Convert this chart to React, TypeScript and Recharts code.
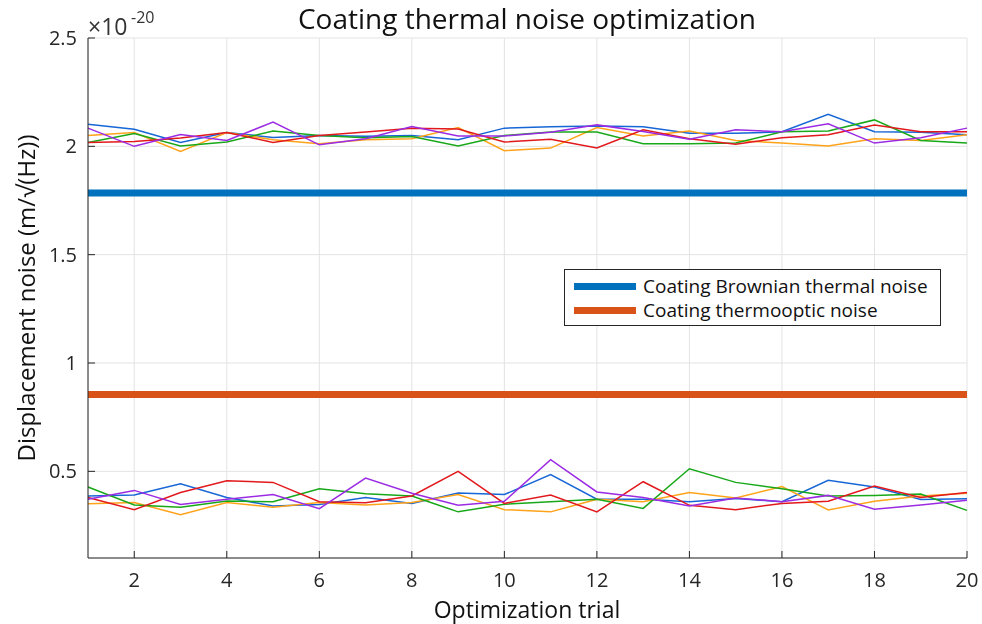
import {
  LineChart,
  Line,
  XAxis,
  YAxis,
  CartesianGrid,
  ReferenceLine,
  Legend,
  Customized,
} from 'recharts'

const trials = [1, 2, 3, 4, 5, 6, 7, 8, 9, 10, 11, 12, 13, 14, 15, 16, 17, 18, 19, 20]

// Brownian noise, each optimization run (x 1e-20)
const brownBlue = [2.102, 2.079, 2.018, 2.064, 2.041, 2.05, 2.046, 2.05, 2.03, 2.084, 2.09, 2.094, 2.09, 2.06, 2.06, 2.067, 2.148, 2.067, 2.065, 2.053]
const brownOrange = [2.05, 2.064, 1.976, 2.064, 2.03, 2.012, 2.03, 2.035, 2.087, 1.98, 1.992, 2.087, 2.048, 2.071, 2.027, 2.015, 2.002, 2.035, 2.027, 2.053]
const brownGreen = [2.018, 2.059, 2.002, 2.02, 2.071, 2.05, 2.04, 2.045, 2.002, 2.05, 2.066, 2.066, 2.012, 2.012, 2.015, 2.067, 2.071, 2.122, 2.027, 2.015]
const brownRed = [2.018, 2.022, 2.038, 2.064, 2.018, 2.05, 2.066, 2.084, 2.08, 2.02, 2.033, 1.992, 2.076, 2.035, 2.01, 2.04, 2.053, 2.098, 2.067, 2.067]
const brownPurple = [2.084, 2.0, 2.055, 2.027, 2.112, 2.007, 2.035, 2.091, 2.048, 2.048, 2.065, 2.099, 2.068, 2.033, 2.076, 2.067, 2.104, 2.015, 2.04, 2.084]

// thermo-optic noise, each optimization run
const toBlue = [0.386, 0.391, 0.443, 0.379, 0.34, 0.347, 0.379, 0.352, 0.4, 0.393, 0.485, 0.371, 0.371, 0.36, 0.375, 0.36, 0.459, 0.428, 0.37, 0.373]
const toOrange = [0.35, 0.356, 0.3, 0.356, 0.334, 0.356, 0.345, 0.356, 0.393, 0.323, 0.313, 0.371, 0.36, 0.402, 0.377, 0.43, 0.322, 0.362, 0.386, 0.399]
const toGreen = [0.428, 0.345, 0.334, 0.363, 0.36, 0.42, 0.397, 0.386, 0.313, 0.348, 0.36, 0.371, 0.329, 0.512, 0.449, 0.42, 0.386, 0.389, 0.395, 0.32]
const toRed = [0.379, 0.323, 0.402, 0.457, 0.449, 0.36, 0.355, 0.386, 0.5, 0.352, 0.391, 0.313, 0.452, 0.343, 0.323, 0.352, 0.362, 0.432, 0.379, 0.402]
const toPurple = [0.371, 0.412, 0.347, 0.371, 0.393, 0.328, 0.469, 0.399, 0.343, 0.362, 0.554, 0.405, 0.379, 0.34, 0.377, 0.36, 0.389, 0.325, 0.345, 0.366]

const brownianLevel = 1.785
const thermoopticLevel = 0.855

const xTicks = [2, 4, 6, 8, 10, 12, 14, 16, 18, 20]
const yTicks = [0.5, 1, 1.5, 2, 2.5]

const RUNS = [
  { key: 'blue', color: '#1766d6', brown: brownBlue, to: toBlue },
  { key: 'orange', color: '#ffa31a', brown: brownOrange, to: toOrange },
  { key: 'green', color: '#19a819', brown: brownGreen, to: toGreen },
  { key: 'red', color: '#e2191c', brown: brownRed, to: toRed },
  { key: 'purple', color: '#9b2be3', brown: brownPurple, to: toPurple },
]

const LEGEND = [
  { label: 'Coating Brownian thermal noise', color: '#0072BD' },
  { label: 'Coating thermooptic noise', color: '#D95319' },
]

const FONT = '"Open Sans", sans-serif'
const AXIS = '#262626'

const data = trials.map((t, i) => {
  const row: Record<string, number> = { trial: t }
  RUNS.forEach((r) => {
    row['b_' + r.key] = r.brown[i]
    row['t_' + r.key] = r.to[i]
  })
  return row
})

function BoxLegend() {
  return (
    <div
      style={{
        border: `1px solid ${AXIS}`,
        background: '#fff',
        width: 375,
        height: 51,
        fontFamily: FONT,
        fontSize: 19,
        color: '#111',
        boxSizing: 'content-box',
        paddingTop: 4,
      }}
    >
      {LEGEND.map((l) => (
        <div key={l.label} style={{ display: 'flex', alignItems: 'center', height: 24, whiteSpace: 'nowrap' }}>
          <span style={{ display: 'inline-block', width: 62, height: 7, background: l.color, marginLeft: 9, marginRight: 7 }} />
          <span>{l.label}</span>
        </div>
      ))}
    </div>
  )
}

function Texts() {
  return (
    <g fontFamily={FONT}>
      <text x={527} y={29} textAnchor="middle" style={{ fontSize: 28, fill: '#111' }}>
        Coating thermal noise optimization
      </text>
      <text x={88} y={35} style={{ fontSize: 23, fill: '#333' }}>
        ×10
      </text>
      <text x={131} y={23} style={{ fontSize: 16, fill: '#333' }}>
        -20
      </text>
      <text x={527} y={618} textAnchor="middle" style={{ fontSize: 23, fill: '#111' }}>
        Optimization trial
      </text>
      <text
        x={25}
        y={298}
        textAnchor="middle"
        dominantBaseline="central"
        transform="rotate(-90 25 298)"
        style={{ fontSize: 24, fill: '#111' }}
      >
        Displacement noise (m/√(Hz))
      </text>
    </g>
  )
}

export default function App() {
  return (
    <div style={{ position: 'fixed', left: 0, top: 0, width: 982, height: 624 }}>
      <LineChart width={982} height={624} data={data} margin={{ top: 38, right: 15, left: 0, bottom: 36 }}>
        <CartesianGrid stroke="#e3e3e3" strokeWidth={1} />
        <XAxis
          dataKey="trial"
          type="number"
          domain={[1, 20]}
          ticks={xTicks}
          height={30}
          tickSize={-7}
          tickMargin={22}
          tick={{ fontSize: 20, fill: '#262626', fontFamily: FONT }}
          axisLine={{ stroke: AXIS }}
          tickLine={{ stroke: AXIS }}
        />
        <XAxis
          xAxisId="top"
          orientation="top"
          dataKey="trial"
          type="number"
          domain={[1, 20]}
          ticks={xTicks}
          height={0}
          tickSize={-7}
          tickFormatter={() => ''}
          axisLine={{ stroke: AXIS }}
          tickLine={{ stroke: AXIS }}
        />
        <YAxis
          type="number"
          domain={[0.1, 2.5]}
          ticks={yTicks}
          width={88}
          tickSize={-7}
          tickMargin={18}
          tick={{ fontSize: 20, fill: '#262626', fontFamily: FONT }}
          axisLine={{ stroke: AXIS }}
          tickLine={{ stroke: AXIS }}
        />
        <YAxis
          yAxisId="right"
          orientation="right"
          type="number"
          domain={[0.1, 2.5]}
          ticks={yTicks}
          width={0}
          tickSize={-7}
          tickFormatter={() => ''}
          axisLine={{ stroke: AXIS }}
          tickLine={{ stroke: AXIS }}
        />
        <ReferenceLine y={brownianLevel} stroke="#0072BD" strokeWidth={7} />
        <ReferenceLine y={thermoopticLevel} stroke="#D95319" strokeWidth={7} />
        {RUNS.map((r) => (
          <Line key={'b' + r.key} dataKey={'b_' + r.key} stroke={r.color} strokeWidth={1.5} dot={false} isAnimationActive={false} />
        ))}
        {RUNS.map((r) => (
          <Line key={'t' + r.key} dataKey={'t_' + r.key} stroke={r.color} strokeWidth={1.5} dot={false} isAnimationActive={false} />
        ))}
        <Legend
          layout="horizontal"
          verticalAlign="middle"
          align="center"
          wrapperStyle={{ left: 564, top: 269, width: 'auto' }}
          content={() => <BoxLegend />}
        />
        <Customized component={Texts} />
      </LineChart>
    </div>
  )
}
